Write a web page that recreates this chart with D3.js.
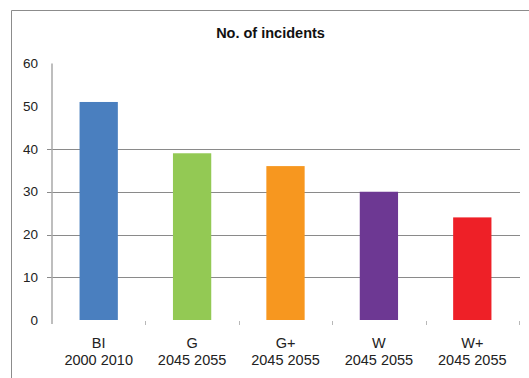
<!DOCTYPE html>
<html>
<head>
<meta charset="utf-8">
<script src="https://cdn.jsdelivr.net/npm/d3@7/dist/d3.min.js"></script>
<style>
  html, body { margin: 0; padding: 0; background: #fff; }
  svg { display: block; }
  text { font-family: "Liberation Sans", Arial, sans-serif; }
</style>
</head>
<body>
<svg id="chart" width="529" height="378"></svg>
<script>
// Incident counts per scenario
const categories = ["BI", "G", "G+", "W", "W+"];
const periods = ["2000 2010", "2045 2055", "2045 2055", "2045 2055", "2045 2055"];
const incidents = [51, 39, 36, 30, 24];
const barColors = ["#4a7fbf", "#93c954", "#f7971f", "#6d3893", "#ee2027"];
const yTicks = [0, 10, 20, 30, 40, 50, 60];
const gridValues = [10, 20, 30, 40];

const svg = d3.select("#chart");

// Chart frame (left and top edges)
svg.append("path")
  .attr("d", "M11.5,378 V10.5 H529")
  .attr("fill", "none")
  .attr("stroke", "#8c8c8c")
  .attr("stroke-width", 1);

// Title
svg.append("text")
  .attr("x", 270.5)
  .attr("y", 38)
  .attr("text-anchor", "middle")
  .attr("font-weight", "bold")
  .attr("font-size", 14.5)
  .attr("fill", "#111")
  .text("No. of incidents");

const plot = { left: 52, right: 519, top: 63.5, bottom: 320 };

const x = d3.scaleBand()
  .domain(categories)
  .range([plot.left, plot.right])
  .paddingInner(0.59)
  .paddingOuter(0.295);

const xOuter = d3.scaleBand()
  .domain(categories)
  .range([plot.left, plot.right]);

const y = d3.scaleLinear()
  .domain([0, 60])
  .range([plot.bottom, plot.top]);

// Horizontal gridlines
svg.append("g")
  .selectAll("line")
  .data(gridValues)
  .join("line")
  .attr("x1", plot.left - 5)
  .attr("x2", plot.right + 1)
  .attr("y1", d => Math.round(y(d)) + 0.5)
  .attr("y2", d => Math.round(y(d)) + 0.5)
  .attr("stroke", "#8a8a8a")
  .attr("stroke-width", 1);

// Bars
svg.append("g")
  .selectAll("rect")
  .data(categories)
  .join("rect")
  .attr("x", d => x(d))
  .attr("width", x.bandwidth())
  .attr("y", (d, i) => y(incidents[i]))
  .attr("height", (d, i) => y(0) - y(incidents[i]))
  .attr("fill", (d, i) => barColors[i]);

// Y axis line
svg.append("line")
  .attr("x1", plot.left)
  .attr("x2", plot.left)
  .attr("y1", plot.top)
  .attr("y2", plot.bottom + 4)
  .attr("stroke", "#a8a8a8")
  .attr("stroke-width", 1.5);

// Y tick labels
svg.append("g")
  .selectAll("text")
  .data(yTicks)
  .join("text")
  .attr("x", 38)
  .attr("y", d => y(d))
  .attr("dy", "0.35em")
  .attr("text-anchor", "end")
  .attr("font-size", 13.5)
  .attr("fill", "#222")
  .text(d => d);

// Category boundary ticks
const boundaries = categories.map(c => xOuter(c)).slice(1).concat([plot.right]);
svg.append("g")
  .selectAll("line")
  .data(boundaries)
  .join("line")
  .attr("x1", d => Math.round(d) + 0.5)
  .attr("x2", d => Math.round(d) + 0.5)
  .attr("y1", plot.bottom + 1)
  .attr("y2", plot.bottom + 5)
  .attr("stroke", "#b8b8b8")
  .attr("stroke-width", 1);

// Category labels (two lines)
const labels = svg.append("g")
  .selectAll("text")
  .data(categories)
  .join("text")
  .attr("text-anchor", "middle")
  .attr("font-size", 14.5)
  .attr("fill", "#222");
labels.append("tspan")
  .attr("x", d => x(d) + x.bandwidth() / 2)
  .attr("y", 348)
  .text(d => d);
labels.append("tspan")
  .attr("x", d => x(d) + x.bandwidth() / 2)
  .attr("y", 365)
  .text((d, i) => periods[i]);
</script>
</body>
</html>
